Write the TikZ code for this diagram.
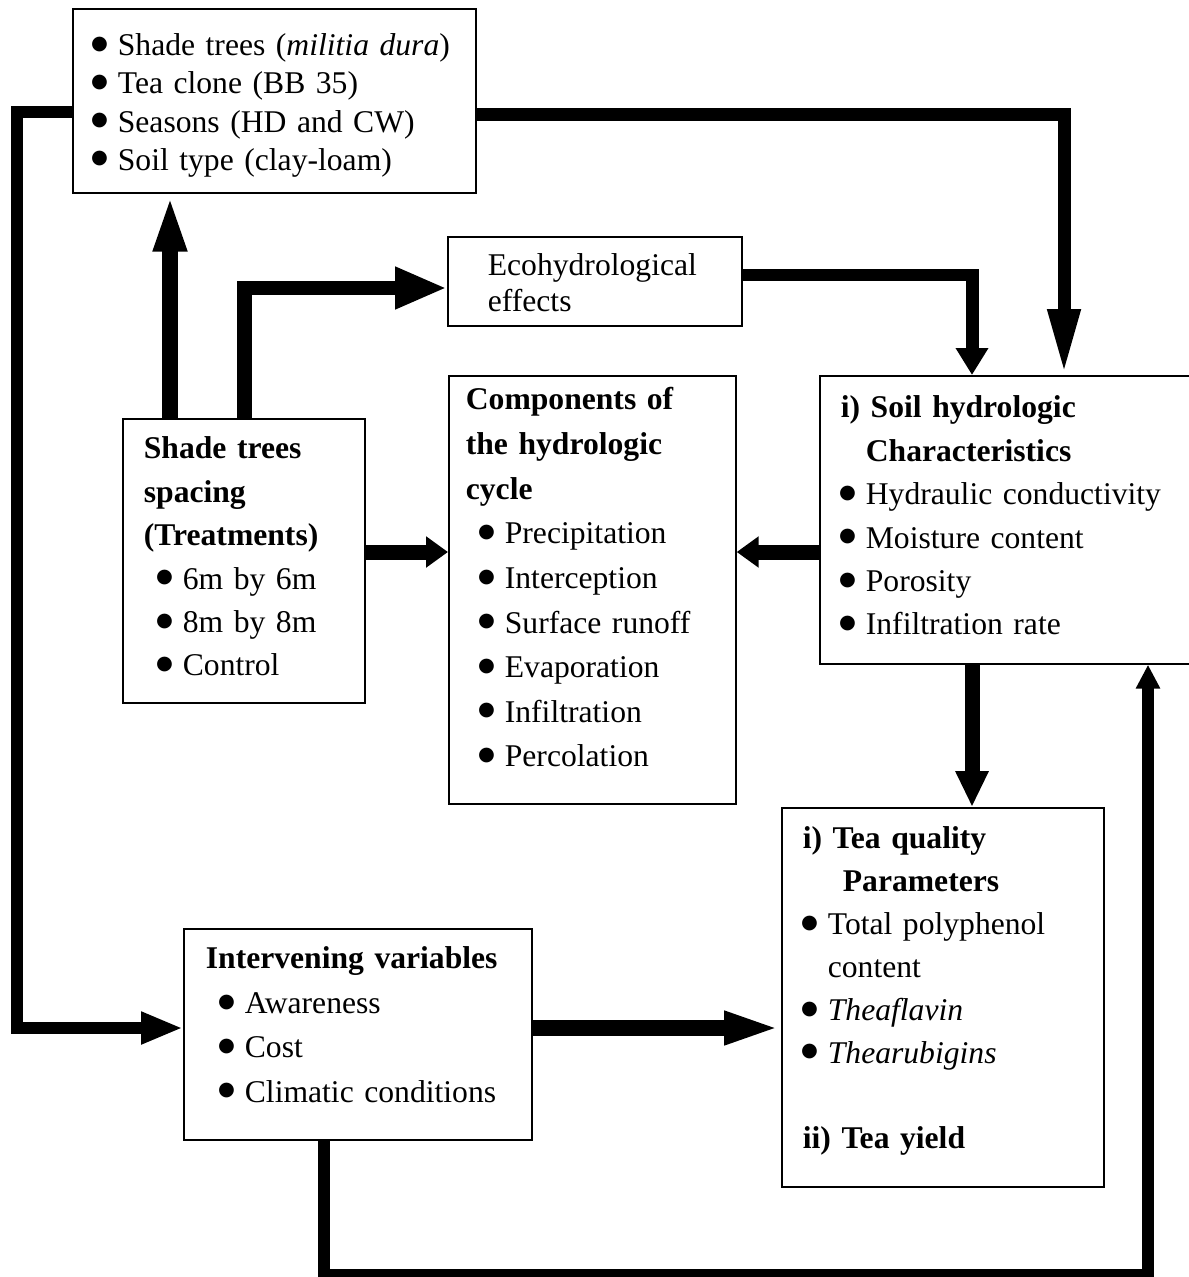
\documentclass[tikz,border=0pt]{standalone}
\usepackage{fontspec}
\setmainfont{Liberation Serif}
\newfontfamily\dotfont{DejaVu Sans}
\usetikzlibrary{arrows.meta}
\hyphenpenalty=10000
\newcommand{\itm}{\makebox[0.5cm][l]{\hspace{-1pt}\raisebox{3.6pt}{\dotfont\fontsize{11}{11}\selectfont ●}}}
\newcommand{\indt}{\hspace*{0.28cm}}
\begin{document}
\begin{tikzpicture}[x=0.02cm,y=-0.02cm,
    box/.style={draw,line width=1pt,anchor=north west,inner ysep=0pt,align=left,
      font=\fontsize{18}{25}\selectfont},
    flow/.style={line width=#1},flow/.default=0.26cm]
  \useasboundingbox (0,0) rectangle (1188,1277);
  % boxes
  \node[box,inner xsep=0.4cm,text width=7.26cm,text height=0.94cm,text depth=2.74cm,
    font=\fontsize{18}{21.7}\selectfont] (factors) at (72,8)
    {\itm Shade trees (\textit{militia dura})\\ \itm Tea clone (BB 35)\\
     \itm Seasons (HD and CW)\\ \itm Soil type (clay-loam)};
  \node[box,inner xsep=0.8cm,text width=4.28cm,text height=0.78cm,text depth=1cm,
    font=\fontsize{18}{20.4}\selectfont] (eco) at (447,236) {Ecohydrological\\ effects};
  \node[box,inner xsep=0.42cm,text width=4cm,text height=0.8cm,text depth=4.88cm,
    font=\fontsize{18}{24.7}\selectfont] (treat) at (122,418)
    {\textbf{Shade trees}\\ \textbf{spacing}\\ \textbf{(Treatments)}\\
     \indt\itm 6m by 6m\\ \indt\itm 8m by 8m\\ \indt\itm Control};
  \node[box,inner xsep=0.34cm,text width=5.06cm,text height=0.68cm,text depth=7.88cm,
    font=\fontsize{18}{25.4}\selectfont] (comp) at (448,375)
    {\textbf{Components of}\\ \textbf{the hydrologic}\\ \textbf{cycle}\\
     \indt\itm Precipitation\\ \indt\itm Interception\\ \indt\itm Surface runoff\\
     \indt\itm Evaporation\\ \indt\itm Infiltration\\ \indt\itm Percolation};
  \node[box,inner xsep=0.42cm,text width=6.78cm,text height=0.84cm,text depth=4.92cm,
    font=\fontsize{18}{24.7}\selectfont] (soil) at (819,375)
    {\textbf{i) Soil hydrologic}\\ \hspace*{0.5cm}\textbf{Characteristics}\\
     \itm Hydraulic conductivity\\ \itm Moisture content\\ \itm Porosity\\
     \itm Infiltration rate};
  \node[box,inner xsep=0.42cm,text width=5.6cm,text height=0.82cm,text depth=6.76cm,
    font=\fontsize{18}{24.4}\selectfont] (tea) at (781,807)
    {\textbf{i) Tea quality}\\ \hspace*{0.8cm}\textbf{Parameters}\\
     \itm Total polyphenol\\ \hspace*{0.5cm}content\\ \itm\textit{Theaflavin}\\
     \itm\textit{Thearubigins}\\ \mbox{}\\ \textbf{ii) Tea yield}};
  \node[box,inner xsep=0.44cm,text width=6.08cm,text height=0.8cm,text depth=3.42cm,
    font=\fontsize{18}{25.3}\selectfont] (interv) at (183,928)
    {\textbf{Intervening variables}\\ \indt\itm Awareness\\ \indt\itm Cost\\
     \indt\itm Climatic conditions};
  % arrows
  \draw[flow=0.32cm,-{Triangle[width=0.6cm,length=1.16cm]}]
    (170,0 |- treat.north) -- (170,0 |- factors.south);
  \draw[flow=0.3cm,-{Triangle[width=0.78cm,length=1.04cm]}]
    (244,0 |- treat.north) |- (eco.west |- 0,288);
  \draw[flow,-{Triangle[width=0.62cm,length=0.54cm]}]
    (eco.east |- 0,275) -| (972,0 |- soil.north);
  \draw[flow,-{Triangle[width=0.6cm,length=1.32cm]}]
    (factors.east |- 0,115) -| (1064,0 |- soil.north);
  \draw[flow=0.3cm,-{Triangle[width=0.6cm,length=0.44cm]}]
    (treat.east |- 0,552) -- (comp.west |- 0,552);
  \draw[flow=0.3cm,-{Triangle[width=0.6cm,length=0.44cm]}]
    (soil.west |- 0,552) -- (comp.east |- 0,552);
  \draw[flow=0.3cm,-{Triangle[width=0.62cm,length=0.72cm]}]
    (972,0 |- soil.south) -- (972,0 |- tea.north);
  \draw[flow=0.24cm,-{Triangle[width=0.6cm,length=0.84cm]}]
    (factors.west |- 0,112) -| (17,1028) -- (interv.west |- 0,1028);
  \draw[flow=0.32cm,-{Triangle[width=0.6cm,length=1.14cm]}]
    (interv.east |- 0,1028) -- (tea.west |- 0,1028);
  \draw[flow=0.23cm,-{Triangle[width=0.46cm,length=0.48cm]}]
    (324,0 |- interv.south) |- (1148,1275) -- (1148,0 |- soil.south);
\end{tikzpicture}
\end{document}
